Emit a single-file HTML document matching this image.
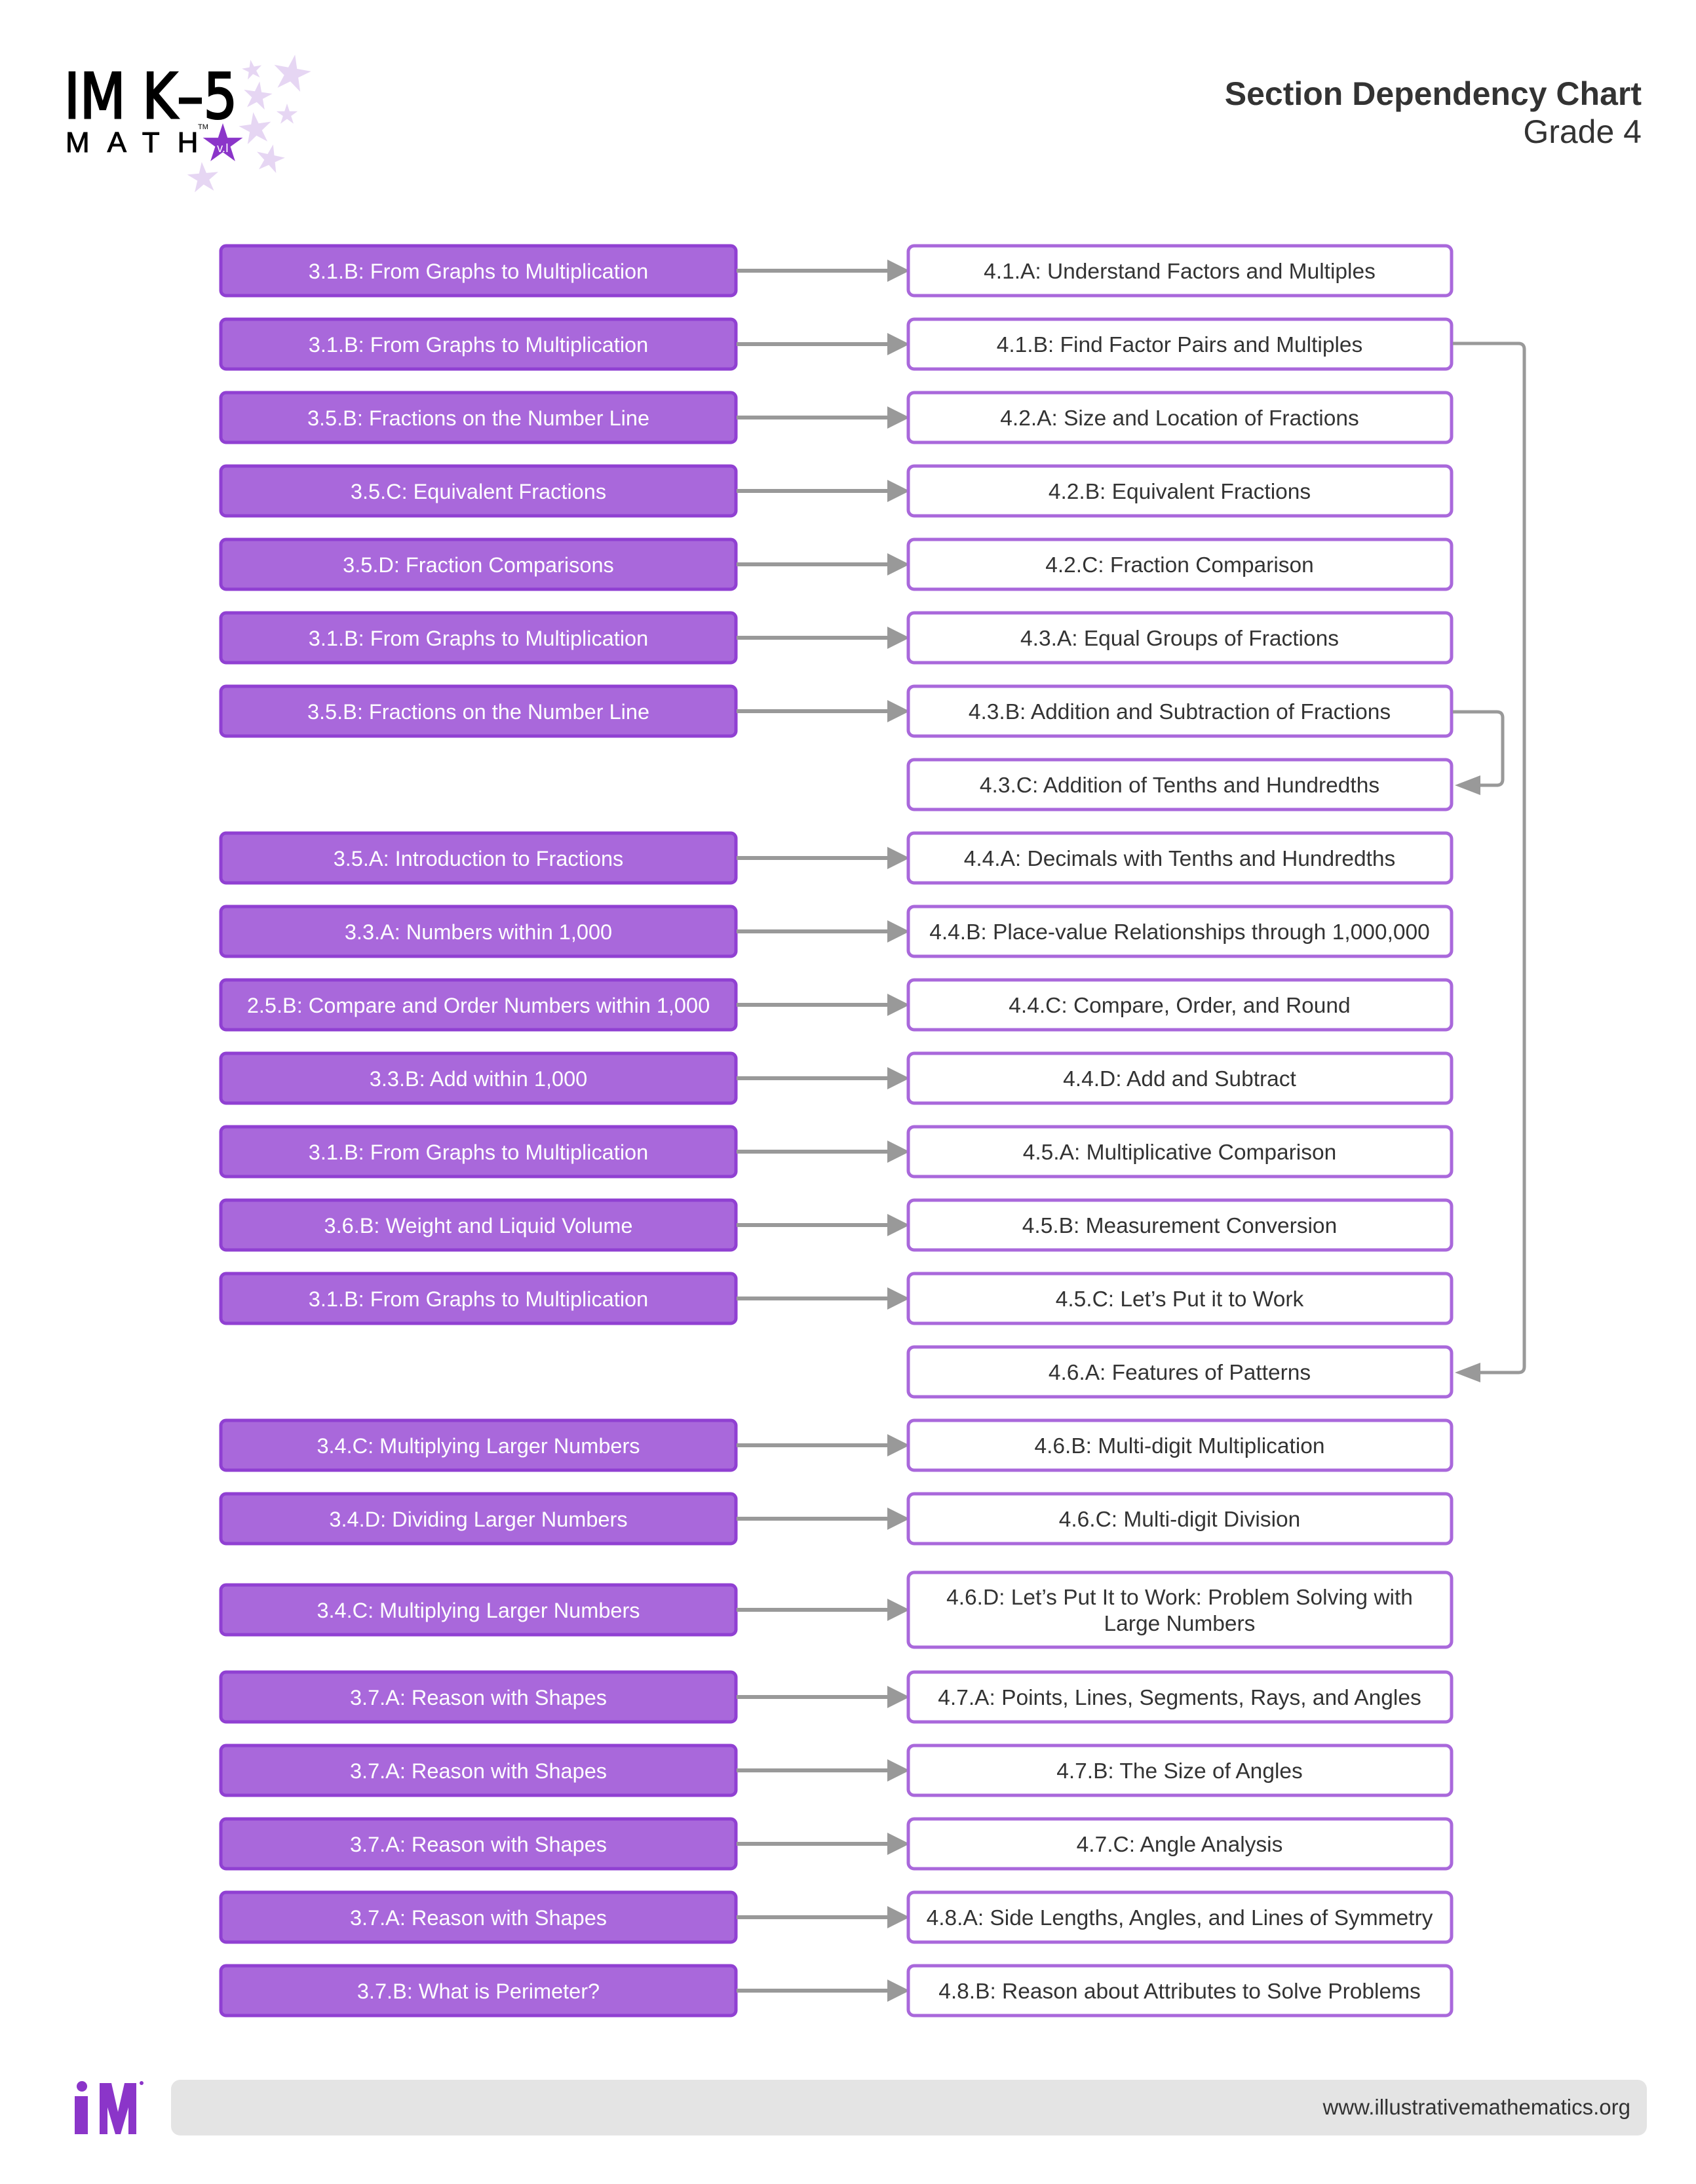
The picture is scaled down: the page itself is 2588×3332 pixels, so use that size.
<!DOCTYPE html>
<html><head><meta charset="utf-8"><style>
html,body{margin:0;padding:0;background:#fff}
svg{display:block}
text{font-family:"Liberation Sans",Arial,sans-serif}
</style></head><body>
<svg width="2588" height="3332" viewBox="0 0 2588 3332" xmlns="http://www.w3.org/2000/svg">
<defs>
<polygon id="st" points="0,-1 0.2245,-0.309 0.951,-0.309 0.363,0.118 0.588,0.809 0,0.382 -0.588,0.809 -0.363,0.118 -0.951,-0.309 -0.2245,-0.309"/>
</defs>
<g fill="#e6d6f3">
<use href="#st" transform="translate(445,113) scale(30) rotate(10)"/>
<use href="#st" transform="translate(385,107) scale(16) rotate(-10)"/>
<use href="#st" transform="translate(393,147) scale(23) rotate(8)"/>
<use href="#st" transform="translate(438,175) scale(17)"/>
<use href="#st" transform="translate(390,197) scale(26) rotate(-8)"/>
<use href="#st" transform="translate(412,243) scale(23) rotate(12)"/>
<use href="#st" transform="translate(310,272) scale(25) rotate(-5)"/>
</g>
<text x="98" y="180" font-size="95" fill="#000" stroke="#000" stroke-width="3" style="font-family:'DejaVu Sans','Liberation Sans',sans-serif" textLength="264" lengthAdjust="spacingAndGlyphs">IM K–5</text>
<text x="100" y="232" font-size="44" fill="#000" stroke="#000" stroke-width="1" letter-spacing="27">MATH</text>
<text x="302" y="197" font-size="11" fill="#000">TM</text>
<use href="#st" transform="translate(340,220) scale(32)" fill="#8b35c9"/>
<text x="340" y="232" font-size="18" fill="#fff" text-anchor="middle">v.I</text>
<text x="2505" y="160" font-size="50" font-weight="bold" fill="#333" text-anchor="end">Section Dependency Chart</text>
<text x="2505" y="218" font-size="50" fill="#333" text-anchor="end">Grade 4</text>
<g id="rows"></g>
<g fill="none" stroke="#999" stroke-width="5">
<path d="M2217,524 H2317 Q2326,524 2326,533 V2085 Q2326,2094 2317,2094 H2258"/>
<path d="M2217,1086 H2284 Q2293,1086 2293,1095 V1189 Q2293,1198 2284,1198 H2258"/>
</g>
<polygon points="2220,2094 2259,2079 2259,2109" fill="#999"/>
<polygon points="2220,1198 2259,1183 2259,1213" fill="#999"/>
<rect x="261" y="3173" width="2252" height="85" rx="14" fill="#e4e4e4"/>
<text x="2488" y="3226" font-size="33" fill="#333" text-anchor="end">www.illustrativemathematics.org</text>
<g fill="#8b35c9">
<circle cx="125" cy="3183" r="8"/>
<rect x="114" y="3198" width="20" height="58"/>
<polygon points="152,3178 170,3178 180,3222 190,3178 208,3178 208,3256 196,3256 196,3215 184,3256 176,3256 164,3215 164,3256 152,3256"/>
<circle cx="216" cy="3178" r="3"/>
</g>
</svg>
<script>
var rows=[
["3.1.B: From Graphs to Multiplication","4.1.A: Understand Factors and Multiples"],
["3.1.B: From Graphs to Multiplication","4.1.B: Find Factor Pairs and Multiples"],
["3.5.B: Fractions on the Number Line","4.2.A: Size and Location of Fractions"],
["3.5.C: Equivalent Fractions","4.2.B: Equivalent Fractions"],
["3.5.D: Fraction Comparisons","4.2.C: Fraction Comparison"],
["3.1.B: From Graphs to Multiplication","4.3.A: Equal Groups of Fractions"],
["3.5.B: Fractions on the Number Line","4.3.B: Addition and Subtraction of Fractions"],
[null,"4.3.C: Addition of Tenths and Hundredths"],
["3.5.A: Introduction to Fractions","4.4.A: Decimals with Tenths and Hundredths"],
["3.3.A: Numbers within 1,000","4.4.B: Place-value Relationships through 1,000,000"],
["2.5.B: Compare and Order Numbers within 1,000","4.4.C: Compare, Order, and Round"],
["3.3.B: Add within 1,000","4.4.D: Add and Subtract"],
["3.1.B: From Graphs to Multiplication","4.5.A: Multiplicative Comparison"],
["3.6.B: Weight and Liquid Volume","4.5.B: Measurement Conversion"],
["3.1.B: From Graphs to Multiplication","4.5.C: Let’s Put it to Work"],
[null,"4.6.A: Features of Patterns"],
["3.4.C: Multiplying Larger Numbers","4.6.B: Multi-digit Multiplication"],
["3.4.D: Dividing Larger Numbers","4.6.C: Multi-digit Division"],
["3.4.C: Multiplying Larger Numbers",["4.6.D: Let’s Put It to Work: Problem Solving with","Large Numbers"]],
["3.7.A: Reason with Shapes","4.7.A: Points, Lines, Segments, Rays, and Angles"],
["3.7.A: Reason with Shapes","4.7.B: The Size of Angles"],
["3.7.A: Reason with Shapes","4.7.C: Angle Analysis"],
["3.7.A: Reason with Shapes","4.8.A: Side Lengths, Angles, and Lines of Symmetry"],
["3.7.B: What is Perimeter?","4.8.B: Reason about Attributes to Solve Problems"]];
var g=document.getElementById("rows"),h="";
rows.forEach(function(r,i){
 var cy = i<18 ? 413+112*i : (i==18 ? 2456 : 2589+112*(i-19));
 if(r[0]){
  h+='<rect x="337" y="'+(cy-38)+'" width="786" height="76" rx="8" fill="#a968db" stroke="#9040d2" stroke-width="5"/>';
  h+='<text x="730" y="'+(cy+12)+'" font-size="32.5" fill="#fff" text-anchor="middle">'+r[0]+'</text>';
  h+='<rect x="1124" y="'+(cy-3)+'" width="244" height="6" fill="#999"/>';
  h+='<polygon points="1388,'+cy+' 1354,'+(cy-17)+' 1354,'+(cy+17)+'" fill="#999"/>';
 }
 var tall = Array.isArray(r[1]);
 var hh = tall?114:76;
 h+='<rect x="1386" y="'+(cy-hh/2)+'" width="829" height="'+hh+'" rx="9" fill="#fff" stroke="#a968db" stroke-width="5"/>';
 if(tall){
  h+='<text x="1800" y="'+(cy-8)+'" font-size="33.5" fill="#333" text-anchor="middle">'+r[1][0]+'</text>';
  h+='<text x="1800" y="'+(cy+32)+'" font-size="33.5" fill="#333" text-anchor="middle">'+r[1][1]+'</text>';
 } else {
  h+='<text x="1800" y="'+(cy+12)+'" font-size="33.5" fill="#333" text-anchor="middle">'+r[1]+'</text>';
 }
});
g.innerHTML=h;
</script>
</body></html>
